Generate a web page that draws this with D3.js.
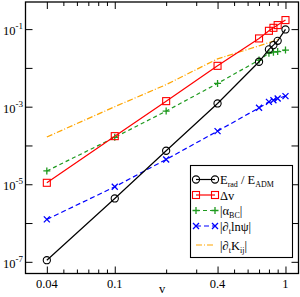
<!DOCTYPE html>
<html>
<head>
<meta charset="utf-8">
<script src="https://cdn.jsdelivr.net/npm/d3@7"></script>
<style>
  body { margin: 0; background: #fff; }
</style>
</head>
<body>
<div id="chart"></div>
<script>
// data
const vVals    = [0.04, 0.1, 0.2, 0.4, 0.7, 0.8, 0.85, 0.9, 1.0];
const eRad     = [1.1e-7, 4.3e-6, 7.3e-5, 1.21e-3, 0.0144, 0.030, 0.0387, 0.0499, 0.098];
const deltaV   = [1.09e-5, 1.74e-4, 1.39e-3, 0.0113, 0.0575, 0.0904, 0.108, 0.127, 0.171];
const alphaBC  = [2.2e-5, 1.62e-4, 7.7e-4, 3.98e-3, 0.0159, 0.024, 0.0255, 0.0263, 0.0288];
const dtLnPsi  = [1.24e-6, 8.6e-6, 4.36e-5, 2.34e-4, 9.35e-4, 1.33e-3, 1.47e-3, 1.63e-3, 1.87e-3];
const dtK      = [1.65e-4, 1.0e-3, 3.7e-3, 0.0171, 0.037, 0.045, 0.049, 0.054, null];

const xMajor = [0.04, 0.1, 0.4, 1];
const xMinor = [0.05, 0.06, 0.07, 0.08, 0.09, 0.2, 0.3, 0.5, 0.6, 0.7, 0.8, 0.9];
const yMajor = [1e-7, 1e-6, 1e-5, 1e-4, 1e-3, 1e-2, 1e-1];
const yLabelled = [-7, -5, -3, -1];

const width = 300, height = 297;
const plotLeft = 25.5, plotRight = 298.5, plotTop = 2, plotBottom = 273.5;

const svg = d3.select("#chart").append("svg")
  .attr("width", width)
  .attr("height", height)
  .style("font-family", "'Liberation Serif', 'DejaVu Serif', serif");

const x = d3.scaleLog().domain([0.03, 1.2]).range([plotLeft, 299]);
const y = d3.scaleLog().domain([5e-8, 0.5]).range([plotBottom, plotTop]);

// ticks (all pointing inwards)
function tickAxis(axis, tr, vals, len) {
  const g = svg.append("g").attr("transform", tr)
    .call(axis.tickValues(vals).tickSizeInner(-len).tickSizeOuter(0).tickFormat(""));
  g.select(".domain").remove();
  g.selectAll(".tick line").attr("stroke", "#000").attr("stroke-width", 1);
  return g;
}
tickAxis(d3.axisBottom(x), `translate(0,${plotBottom})`, xMajor, 7);
tickAxis(d3.axisBottom(x), `translate(0,${plotBottom})`, xMinor, 4);
tickAxis(d3.axisTop(x), `translate(0,${plotTop})`, xMajor, 7);
tickAxis(d3.axisTop(x), `translate(0,${plotTop})`, xMinor, 4);
tickAxis(d3.axisLeft(y), `translate(${plotLeft},0)`, yMajor, 7);
tickAxis(d3.axisRight(y), `translate(${plotRight},0)`, yMajor, 7);

// x tick labels
svg.append("g")
  .selectAll("text")
  .data(xMajor)
  .join("text")
    .attr("x", d => x(d))
    .attr("y", 288)
    .attr("text-anchor", "middle")
    .style("font-size", "12.5px")
    .text(d => d3.format("~g")(d));

// y tick labels 10^n
const yl = svg.append("g")
  .selectAll("text")
  .data(yLabelled)
  .join("text")
    .attr("x", 3)
    .attr("y", d => y(Math.pow(10, d)) + 6)
    .style("font-size", "12.5px");
yl.append("tspan").text("10");
yl.append("tspan").attr("dy", -6).style("font-size", "9px").text(d => "-" + Math.abs(d));

svg.append("text")
  .attr("x", 162)
  .attr("y", 293)
  .attr("text-anchor", "middle")
  .style("font-size", "12.5px")
  .text("v");

// frame
svg.append("rect")
  .attr("x", plotLeft).attr("y", plotTop)
  .attr("width", plotRight - plotLeft).attr("height", plotBottom - plotTop)
  .attr("fill", "none").attr("stroke", "#000").attr("stroke-width", 1.3);

const series = [
  { values: eRad,    color: "#000000", dash: null,      marker: "circle" },
  { values: deltaV,  color: "#ff0000", dash: null,      marker: "square" },
  { values: alphaBC, color: "#1f9a1f", dash: "4,3",     marker: "plus" },
  { values: dtLnPsi, color: "#0000ff", dash: "5,3",     marker: "cross" },
  { values: dtK,     color: "#ffa500", dash: "6,2,1,2", marker: null }
];

const line = d3.line()
  .defined(d => d[1] != null)
  .x(d => x(d[0]))
  .y(d => y(d[1]));

function drawMarker(g, type, cx, cy, color) {
  if (type === "circle") {
    g.append("circle").attr("cx", cx).attr("cy", cy).attr("r", 3.6)
      .attr("fill", "none").attr("stroke", color).attr("stroke-width", 1.1);
  } else if (type === "square") {
    g.append("rect").attr("x", cx - 3.5).attr("y", cy - 3.5).attr("width", 7).attr("height", 7)
      .attr("fill", "none").attr("stroke", color).attr("stroke-width", 1.1);
  } else if (type === "plus") {
    g.append("path").attr("d", `M${cx - 3.5},${cy}H${cx + 3.5}M${cx},${cy - 3.5}V${cy + 3.5}`)
      .attr("stroke", color).attr("stroke-width", 1.3);
  } else if (type === "cross") {
    g.append("path").attr("d", `M${cx - 3},${cy - 3}L${cx + 3},${cy + 3}M${cx - 3},${cy + 3}L${cx + 3},${cy - 3}`)
      .attr("stroke", color).attr("stroke-width", 1.3);
  }
}

// draw in reverse so the black curve sits on top
series.slice().reverse().forEach(s => {
  const pts = vVals.map((v, i) => [v, s.values[i]]);
  const g = svg.append("g");
  g.append("path")
    .datum(pts)
    .attr("fill", "none")
    .attr("stroke", s.color)
    .attr("stroke-width", 1.2)
    .attr("stroke-dasharray", s.dash)
    .attr("d", line);
  if (s.marker) {
    pts.filter(p => p[1] != null).forEach(p => drawMarker(g, s.marker, x(p[0]), y(p[1]), s.color));
  }
});

// legend
const legend = svg.append("g");
legend.append("rect")
  .attr("x", 190.5).attr("y", 165.5).attr("width", 102).attr("height", 92)
  .attr("fill", "#fff").attr("stroke", "#000").attr("stroke-width", 1.1);

const rowY = [179.5, 195, 210.5, 226, 245];
series.forEach((s, i) => {
  const ly = rowY[i];
  legend.append("line")
    .attr("x1", 196).attr("x2", 215).attr("y1", ly).attr("y2", ly)
    .attr("stroke", s.color).attr("stroke-width", 1.2)
    .attr("stroke-dasharray", s.dash);
  if (s.marker) {
    drawMarker(legend, s.marker, 196, ly, s.color);
    drawMarker(legend, s.marker, 215, ly, s.color);
  }
});

function legendText(i) {
  return legend.append("text").attr("x", 220).attr("y", rowY[i] + 4.5).style("font-size", "12.5px");
}
let t = legendText(0);
t.append("tspan").text("E");
t.append("tspan").attr("dy", 2.5).style("font-size", "8px").text("rad");
t.append("tspan").attr("dy", -2.5).text(" / E");
t.append("tspan").attr("dy", 2.5).style("font-size", "8px").text("ADM");

t = legendText(1);
t.text("\u0394v");

t = legendText(2);
t.append("tspan").text("|\u03b1");
t.append("tspan").attr("dy", 3).style("font-size", "8px").text("BC");
t.append("tspan").attr("dy", -3).text("|");

t = legendText(3);
t.append("tspan").text("|\u2202");
t.append("tspan").attr("dy", 3).style("font-size", "8px").text("t");
t.append("tspan").attr("dy", -3).text("ln\u03c8|");

t = legendText(4);
t.append("tspan").text("|\u2202");
t.append("tspan").attr("dy", 3).style("font-size", "8px").text("t");
t.append("tspan").attr("dy", -3).text("K");
t.append("tspan").attr("dy", 3).style("font-size", "8px").text("ij");
t.append("tspan").attr("dy", -3).text("|");
</script>
</body>
</html>
